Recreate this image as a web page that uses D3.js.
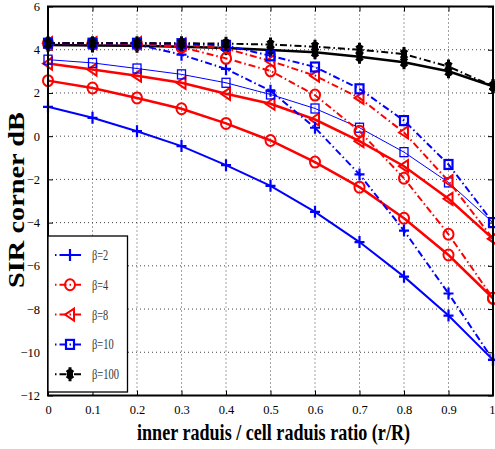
<!DOCTYPE html>
<html>
<head>
<meta charset="utf-8">
<script src="https://cdn.jsdelivr.net/npm/d3@7"></script>
<style>
  html, body { margin: 0; padding: 0; background: #fff; }
  svg { display: block; }
  text { font-family: "Liberation Serif", "DejaVu Serif", serif; }
</style>
</head>
<body>
<svg id="chart" width="495" height="449"></svg>
<script>
// r/R ratio sampled along the x axis
const ratios = [0, 0.1, 0.2, 0.3, 0.4, 0.5, 0.6, 0.7, 0.8, 0.9, 1.0];

// Solid curves (first scheme)
const solidB2   = [1.36, 0.85, 0.23, -0.46, -1.34, -2.3, -3.5, -4.9, -6.5, -8.3, -10.35];
const solidB4   = [2.57, 2.23, 1.77, 1.27, 0.59, -0.2, -1.2, -2.36, -3.8, -5.5, -7.5];
const solidB8   = [3.36, 3.08, 2.8, 2.47, 1.96, 1.5, 0.77, -0.23, -1.39, -2.9, -4.75];
const solidB10  = [3.54, 3.39, 3.13, 2.86, 2.47, 1.93, 1.28, 0.39, -0.74, -2.14, -4.0];
const solidB100 = [4.22, 4.2, 4.18, 4.14, 4.08, 3.99, 3.88, 3.68, 3.42, 3.0, 2.31];

// Dash-dot curves (second scheme)
const dashB2   = [4.3, 4.3, 4.24, 3.77, 3.11, 2.1, 0.39, -1.77, -4.37, -7.28, -10.35];
const dashB4   = [4.3, 4.3, 4.27, 4.12, 3.6, 3.02, 1.9, 0.23, -1.95, -4.54, -7.5];
const dashB8   = [4.3, 4.3, 4.3, 4.25, 4.05, 3.48, 2.8, 1.77, 0.17, -2.08, -4.75];
const dashB10  = [4.3, 4.3, 4.3, 4.28, 4.2, 3.72, 3.2, 2.19, 0.72, -1.31, -4.0];
const dashB100 = [4.3, 4.3, 4.3, 4.3, 4.28, 4.24, 4.14, 4.0, 3.8, 3.22, 2.31];

const legendLabels = ["β=2", "β=4", "β=8", "β=10", "β=100"];
const xTicks = [0, 0.1, 0.2, 0.3, 0.4, 0.5, 0.6, 0.7, 0.8, 0.9, 1];
const yTicks = [-12, -10, -8, -6, -4, -2, 0, 2, 4, 6];

const xLabel = "inner raduis / cell raduis ratio (r/R)";
const yLabel = "SIR corner dB";

const BLUE = "#0000ff", RED = "#ff0000", BLACK = "#000000";
const DASHDOT = "7,3,1.5,3";

const series = [
  { values: solidB2,   color: BLUE,  marker: "plus",     width: 2,   dash: null },
  { values: solidB4,   color: RED,   marker: "circle",   width: 2.5, dash: null },
  { values: solidB8,   color: RED,   marker: "triangle", width: 2.5, dash: null },
  { values: solidB10,  color: BLUE,  marker: "square",   width: 1,   dash: null },
  { values: solidB100, color: BLACK, marker: "star",     width: 2.5, dash: null },
  { values: dashB2,    color: BLUE,  marker: "plus",     width: 2,   dash: DASHDOT },
  { values: dashB4,    color: RED,   marker: "circle",   width: 2,   dash: DASHDOT },
  { values: dashB8,    color: RED,   marker: "triangle", width: 2,   dash: DASHDOT },
  { values: dashB10,   color: BLUE,  marker: "square",   width: 2,   dash: DASHDOT },
  { values: dashB100,  color: BLACK, marker: "star",     width: 2,   dash: DASHDOT }
];
const legendSeries = [5, 6, 7, 8, 9];

const svg = d3.select("#chart");
const m = { left: 48, right: 493, top: 6.5, bottom: 395.5 };

const x = d3.scaleLinear().domain([0, 1]).range([m.left, m.right]);
const y = d3.scaleLinear().domain([-12, 6]).range([m.bottom, m.top]);

// grid (dotted)
const grid = svg.append("g");
grid.selectAll(".gx").data(xTicks.slice(1, -1)).join("line")
  .attr("x1", d => x(d)).attr("x2", d => x(d))
  .attr("y1", m.top).attr("y2", m.bottom)
  .attr("stroke", "#444").attr("stroke-width", 1).attr("stroke-dasharray", "1,3");
grid.selectAll(".gy").data(yTicks.slice(1, -1)).join("line")
  .attr("x1", m.left).attr("x2", m.right)
  .attr("y1", d => y(d)).attr("y2", d => y(d))
  .attr("stroke", "#444").attr("stroke-width", 1).attr("stroke-dasharray", "1,3");

// axes with inward ticks
const xAxis = d3.axisBottom(x).tickValues(xTicks).tickSizeInner(-5).tickSizeOuter(0)
  .tickPadding(10).tickFormat(d => d3.format("")(+d.toFixed(1)));
const yAxis = d3.axisLeft(y).tickValues(yTicks).tickSizeInner(-5).tickSizeOuter(0)
  .tickPadding(8);
const gx = svg.append("g").attr("transform", `translate(0,${m.bottom})`).call(xAxis);
const gy = svg.append("g").attr("transform", `translate(${m.left},0)`).call(yAxis);
[gx, gy].forEach(g => {
  g.select(".domain").remove();
  g.selectAll("text").attr("font-family", "Liberation Serif, serif").attr("font-size", 12.5).attr("fill", "#000");
  g.selectAll(".tick line").attr("stroke", "#000");
});
// last x label sits against the right edge
gx.selectAll(".tick text").filter(d => d === 1).attr("text-anchor", "end").attr("dx", 2);
// mirrored ticks on top and right
svg.append("g").attr("transform", `translate(0,${m.top})`)
  .call(d3.axisTop(x).tickValues(xTicks).tickSizeInner(-5).tickSizeOuter(0).tickFormat(""))
  .call(g => g.select(".domain").remove());
svg.append("g").attr("transform", `translate(${m.right},0)`)
  .call(d3.axisRight(y).tickValues(yTicks).tickSizeInner(-5).tickSizeOuter(0).tickFormat(""))
  .call(g => g.select(".domain").remove());

// markers
function drawMarker(g, type, color, cx, cy, sw) {
  if (type === "plus") {
    g.append("path").attr("d", `M${cx - 5},${cy}H${cx + 5}M${cx},${cy - 6}V${cy + 6}`)
      .attr("stroke", color).attr("stroke-width", 2.2).attr("fill", "none");
  } else if (type === "circle") {
    g.append("ellipse").attr("cx", cx).attr("cy", cy).attr("rx", 5).attr("ry", 5.5)
      .attr("stroke", color).attr("stroke-width", 2).attr("fill", "none");
  } else if (type === "triangle") {
    g.append("path").attr("d", `M${cx - 5},${cy}L${cx + 4},${cy - 6}L${cx + 4},${cy + 6}Z`)
      .attr("stroke", color).attr("stroke-width", 2).attr("fill", "none");
  } else if (type === "square") {
    g.append("rect").attr("x", cx - 4).attr("y", cy - 4.5).attr("width", 8).attr("height", 9)
      .attr("stroke", color).attr("stroke-width", sw < 1.5 ? 1.3 : 2.2).attr("fill", "none");
  } else if (type === "star") {
    g.append("path")
      .attr("d", `M${cx},${cy - 7}V${cy + 7}M${cx - 3},${cy - 4}L${cx + 3},${cy + 4}M${cx - 3},${cy + 4}L${cx + 3},${cy - 4}M${cx - 3},${cy}H${cx + 3}`)
      .attr("stroke", color).attr("stroke-width", 3).attr("fill", "none");
  }
}

const line = d3.line().x((d, i) => x(ratios[i])).y(d => y(d));
const plot = svg.append("g");
series.forEach(s => {
  plot.append("path").datum(s.values).attr("d", line)
    .attr("fill", "none").attr("stroke", s.color).attr("stroke-width", s.width)
    .attr("stroke-dasharray", s.dash);
  const mg = plot.append("g");
  s.values.forEach((v, i) => drawMarker(mg, s.marker, s.color, x(ratios[i]), y(v), s.width));
});

// frame
svg.append("rect").attr("x", m.left).attr("y", m.top)
  .attr("width", m.right - m.left).attr("height", m.bottom - m.top)
  .attr("fill", "none").attr("stroke", "#000").attr("stroke-width", 2);

// legend
const lg = svg.append("g");
lg.append("rect").attr("x", m.left).attr("y", 236).attr("width", 79.5).attr("height", 156)
  .attr("fill", "#fff").attr("stroke", "#000").attr("stroke-width", 1.3);
legendSeries.forEach((si, k) => {
  const s = series[si];
  const ly = 255 + k * 29.8;
  lg.append("line").attr("x1", 55).attr("x2", 84).attr("y1", ly).attr("y2", ly)
    .attr("stroke", s.color).attr("stroke-width", 2).attr("stroke-dasharray", "1.5,3,7,3");
  drawMarker(lg, s.marker, s.color, 70, ly, 2);
  lg.append("text").attr("x", 92).attr("y", ly + 5)
    .attr("font-size", 14).attr("fill", "#333")
    .attr("textLength", legendLabels[k].length * 5.4).attr("lengthAdjust", "spacingAndGlyphs")
    .text(legendLabels[k]);
});

// axis titles, stretched or narrowed horizontally to fill their span
function fitted(text, cx, cy, rotate, size, span) {
  const g = svg.append("g");
  const t = g.append("text").attr("text-anchor", "middle")
    .attr("font-size", size).attr("font-weight", "bold").text(text);
  const w = t.node().getComputedTextLength();
  const k = span / w;
  g.attr("transform", `translate(${cx},${cy}) rotate(${rotate}) scale(${k},1)`);
}
fitted(xLabel, 273.5, 440, 0, 24, 273);
fitted(yLabel, 24, 200, -90, 23, 176);
</script>
</body>
</html>
